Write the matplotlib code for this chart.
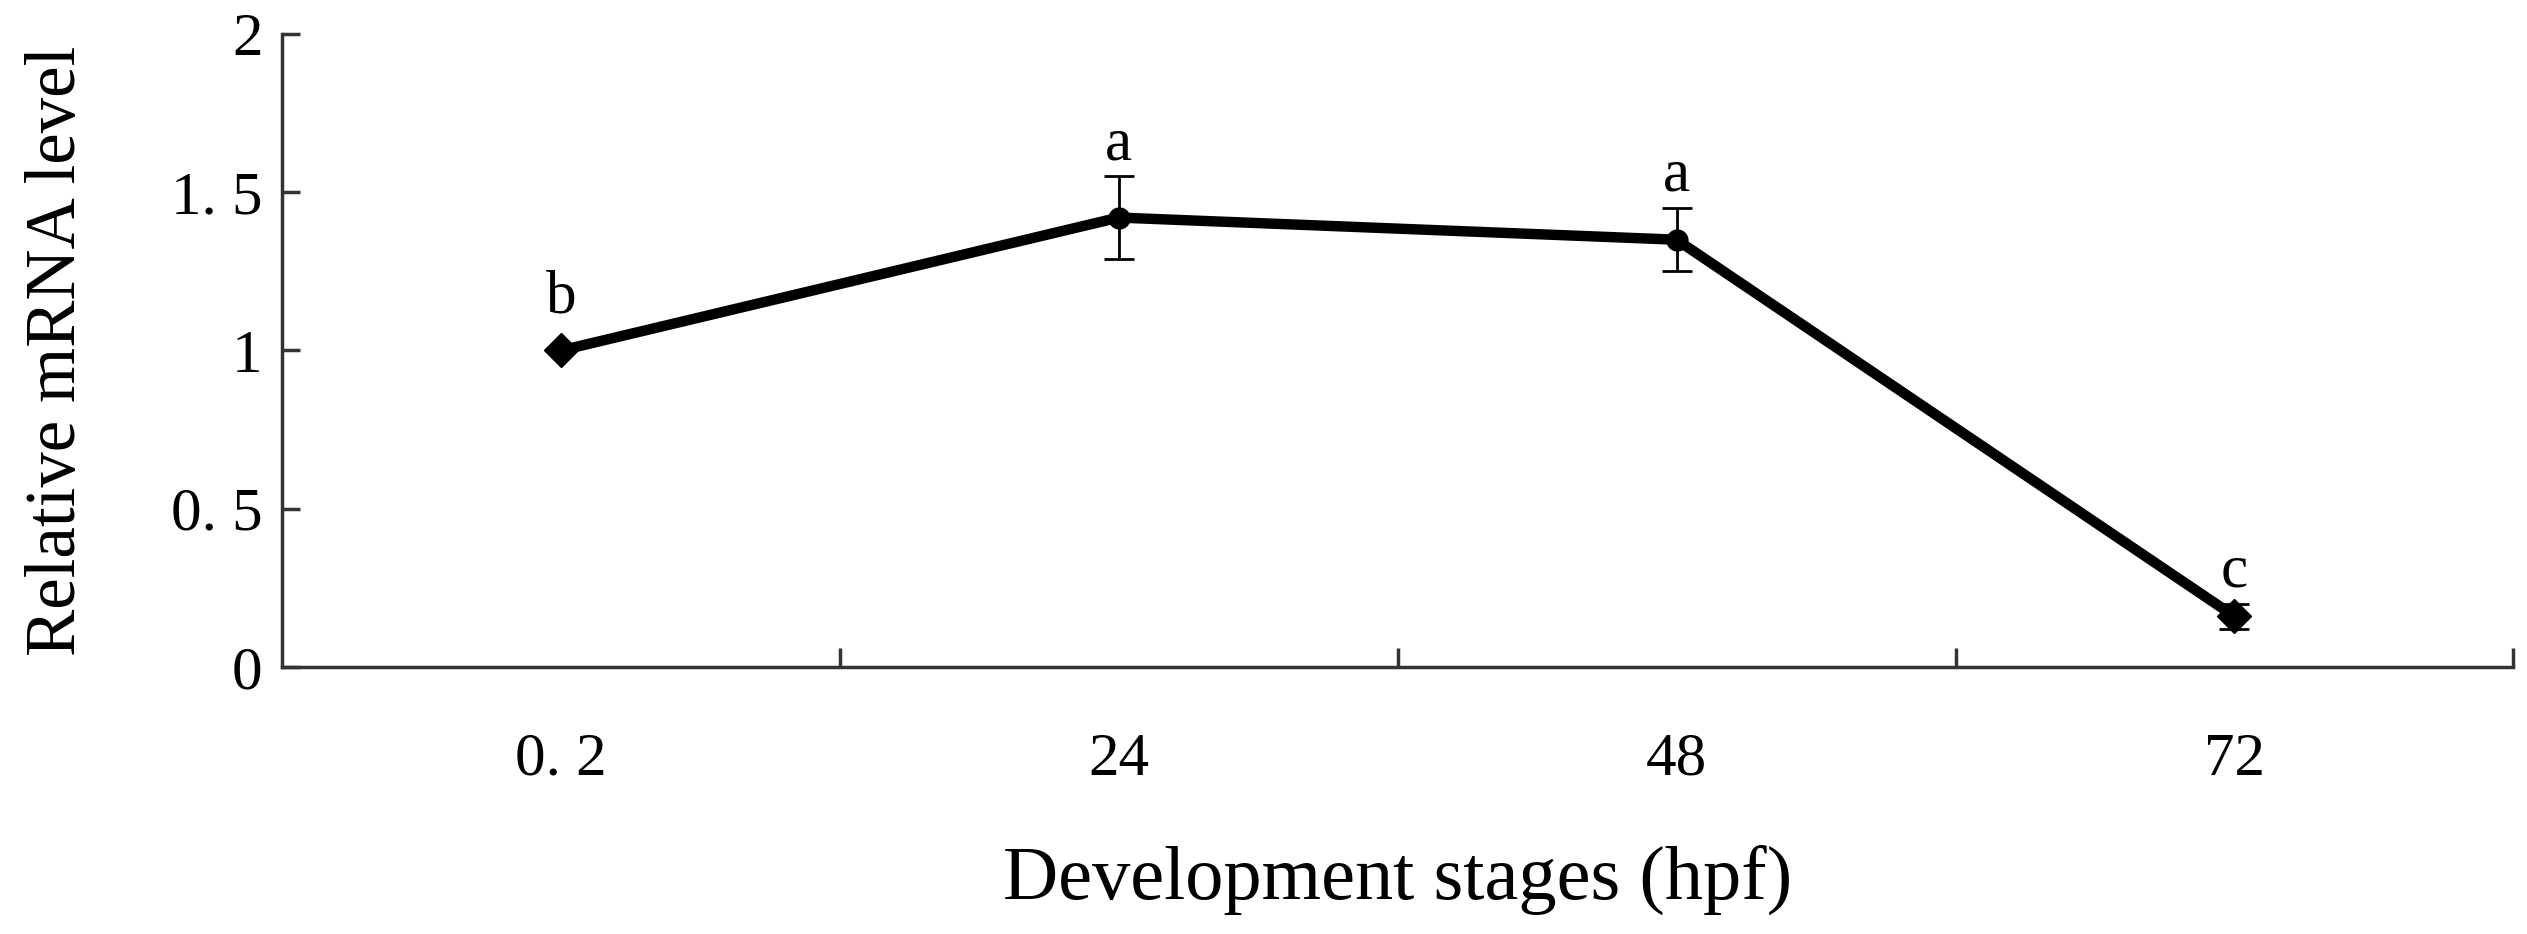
import matplotlib
matplotlib.use("Agg")
import matplotlib.pyplot as plt

# data
stages = ["0. 2", "24", "48", "72"]
mrna_level = [1.0, 1.42, 1.35, 0.16]
mrna_err = [0.0, 0.13, 0.10, 0.04]
letters = ["b", "a", "a", "c"]
point_markers = ["D", "o", "o", "D"]
ytick_values = [0, 0.5, 1, 1.5, 2]
ytick_labels = ["0", "0. 5", "1", "1. 5", "2"]

plt.rcParams["font.family"] = ["Liberation Serif", "DejaVu Serif"]

fig = plt.figure(figsize=(25.27, 9.34), dpi=100)
ax = fig.add_axes([0.1116, 0.2859, 0.883, 0.6777])

x = list(range(len(stages)))
ax.plot(x, mrna_level, color="black", linewidth=7.5, solid_joinstyle="round", zorder=2)
ax.errorbar(x, mrna_level, yerr=mrna_err, fmt="none", ecolor="black",
            elinewidth=2, capsize=11, capthick=2, zorder=3)
for xi, yi, m in zip(x, mrna_level, point_markers):
    ax.plot(xi, yi, marker=m, color="black", markersize=17 if m == "D" else 15, zorder=4)

# significance letters above each point / error bar
for xi, yi, e, lab in zip(x, mrna_level, mrna_err, letters):
    off = 3 if e > 0 else 18
    ax.annotate(lab, (xi, yi + e), xytext=(0, off), textcoords="offset points",
                ha="center", va="bottom", fontsize=44)

ax.set_xlim(-0.5, len(stages) - 0.5)
ax.set_ylim(0, 2)
ax.set_xticks(x)
ax.set_xticklabels(stages, fontsize=44)
ax.set_xticks([i + 0.5 for i in x], minor=True)
ax.tick_params(axis="x", which="major", length=0, pad=47)
ax.tick_params(axis="x", which="minor", direction="in", length=14, width=2.5, color="#333333")
ax.set_yticks(ytick_values)
ax.set_yticklabels(ytick_labels, fontsize=44)
ax.tick_params(axis="y", direction="in", length=13, width=2.5, color="#333333", pad=14)

for side in ["top", "right"]:
    ax.spines[side].set_visible(False)
for side in ["left", "bottom"]:
    ax.spines[side].set_linewidth(2.5)
    ax.spines[side].set_color("#333333")

ax.set_xlabel("Development stages (hpf)", fontsize=55, labelpad=42)
ax.set_ylabel("Relative mRNA level", fontsize=51, labelpad=58)

fig.savefig("out.png", dpi=100)
